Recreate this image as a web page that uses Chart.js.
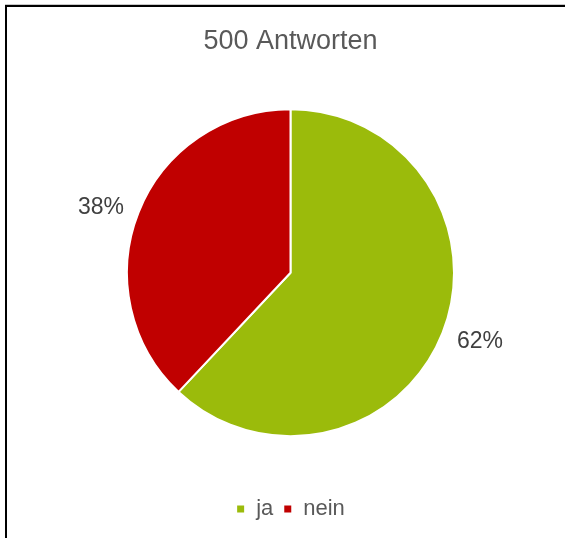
<!DOCTYPE html>
<html>
<head>
<meta charset="utf-8">
<script src="https://cdn.jsdelivr.net/npm/chart.js@4.4.1/dist/chart.umd.min.js"></script>
<style>
  html, body { margin: 0; padding: 0; background: #fff; overflow: hidden; }
  #frame {
    position: absolute; left: 5px; top: 5px; right: -10px; bottom: -10px;
    border-left: 2px solid #000; border-top: 2px solid #000;
    box-shadow: 0 -1px 0 #c8c8c8;
  }
  #wrap { position: absolute; left: 0; top: 0; width: 565px; height: 538px; }
</style>
</head>
<body>
<div id="frame"></div>
<div id="wrap"><canvas id="pie"></canvas></div>
<script>
const categories = ['ja', 'nein'];
const percentages = [62, 38];
const sliceColors = ['#9BBB0B', '#C00000'];
const titleText = '500 Antworten';

const FONT = '"Liberation Sans", Arial, sans-serif';

// Prozentwerte außerhalb der Tortenstücke
const outsideLabels = {
  id: 'outsideLabels',
  afterDatasetsDraw(chart) {
    const ctx = chart.ctx;
    const meta = chart.getDatasetMeta(0);
    ctx.save();
    ctx.font = '23px ' + FONT;
    ctx.fillStyle = '#404040';
    ctx.textAlign = 'center';
    ctx.textBaseline = 'middle';
    meta.data.forEach((arc, i) => {
      const mid = (arc.startAngle + arc.endAngle) / 2 - 0.035;
      const r = arc.outerRadius * 1.23;
      ctx.fillText(percentages[i] + '%', arc.x + Math.cos(mid) * r, arc.y + Math.sin(mid) * r + 2);
    });
    ctx.restore();
  }
};

const ctx = document.getElementById('pie').getContext('2d');
new Chart(ctx, {
  type: 'pie',
  data: {
    labels: categories,
    datasets: [{
      data: percentages,
      backgroundColor: sliceColors,
      borderColor: '#ffffff',
      borderWidth: 2
    }]
  },
  options: {
    responsive: true,
    maintainAspectRatio: false,
    animation: false,
    layout: { padding: { left: 126, right: 110, top: 0, bottom: 8 } },
    plugins: {
      title: {
        display: true,
        text: titleText,
        color: '#595959',
        font: { family: FONT, size: 27, weight: 'normal' },
        padding: { top: 25, bottom: 0 }
      },
      legend: {
        position: 'bottom',
        labels: {
          color: '#595959',
          font: { family: FONT, size: 22 },
          usePointStyle: true,
          pointStyle: 'rect',
          boxWidth: 9,
          boxHeight: 9,
          padding: 10
        }
      },
      tooltip: { enabled: false }
    }
  },
  plugins: [outsideLabels]
});
</script>
</body>
</html>
